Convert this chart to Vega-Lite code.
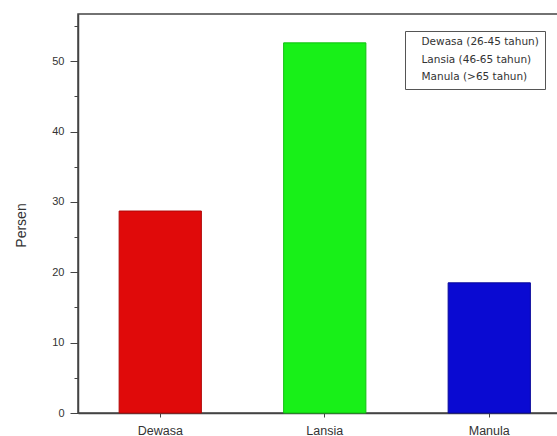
{
  "$schema": "https://vega.github.io/schema/vega-lite/v6.json",
  "width": 481,
  "height": 399,
  "autosize": "none",
  "padding": {"left": 78, "top": 14, "right": 0, "bottom": 23},
  "background": "white",
  "config": {
    "view": {"stroke": "#444", "strokeWidth": 1.5},
    "font": "Liberation Sans",
    "axis": {"labelColor": "#333", "titleColor": "#333", "domainColor": "#444", "tickColor": "#444", "labelFontSize": 11, "labelFont": "Liberation Sans", "titleFont": "Liberation Sans", "titleFontWeight": "normal", "grid": false}
  },
  "data": {
    "values": [
      {"kelompok": "Dewasa", "keterangan": "Dewasa (26-45 tahun)", "persen": 28.7},
      {"kelompok": "Lansia", "keterangan": "Lansia (46-65 tahun)", "persen": 52.6},
      {"kelompok": "Manula", "keterangan": "Manula (>65 tahun)", "persen": 18.5}
    ]
  },
  "layer": [
    {
      "mark": {"type": "bar", "strokeWidth": 1},
      "encoding": {
        "x": {
          "field": "kelompok", "type": "nominal",
          "scale": {"range": [0, 493.5], "paddingInner": 0.5, "paddingOuter": 0.25},
          "axis": {"title": null, "labelAngle": 0, "tickSize": 4, "labelPadding": 7, "labelFontSize": 12.5, "domainWidth": 1.5}
        },
        "y": {
          "field": "persen", "type": "quantitative",
          "scale": {"domain": [0, 56.7], "nice": false},
          "axis": {"title": "Persen", "titleFontSize": 14, "titleX": -50, "titleY": 211, "values": [0, 10, 20, 30, 40, 50], "tickSize": 8, "labelPadding": 6, "domainWidth": 1.5}
        },
        "color": {
          "field": "keterangan", "type": "nominal",
          "scale": {"range": ["#e00a0a", "#18f018", "#0a0ad2"]},
          "legend": {
            "title": null, "orient": "none", "legendX": 327, "legendY": 17,
            "strokeColor": "#555", "padding": 6, "symbolSize": 0, "symbolStrokeWidth": 0, "symbolOpacity": 0,
            "labelFont": "DejaVu Sans", "labelFontSize": 10.5, "labelColor": "#333", "labelOffset": 0, "rowPadding": 6.5
          }
        },
        "stroke": {
          "field": "keterangan", "type": "nominal",
          "scale": {"range": ["#b00808", "#10c010", "#08089a"]},
          "legend": null
        }
      }
    },
    {
      "mark": {"type": "bar", "opacity": 0},
      "encoding": {
        "x": {"field": "kelompok", "type": "nominal"},
        "y": {
          "field": "persen", "type": "quantitative",
          "axis": {"orient": "left", "title": null, "labels": false, "domain": false, "values": [5, 15, 25, 35, 45, 55], "tickSize": 4}
        }
      }
    }
  ],
  "resolve": {"axis": {"y": "independent"}}
}
